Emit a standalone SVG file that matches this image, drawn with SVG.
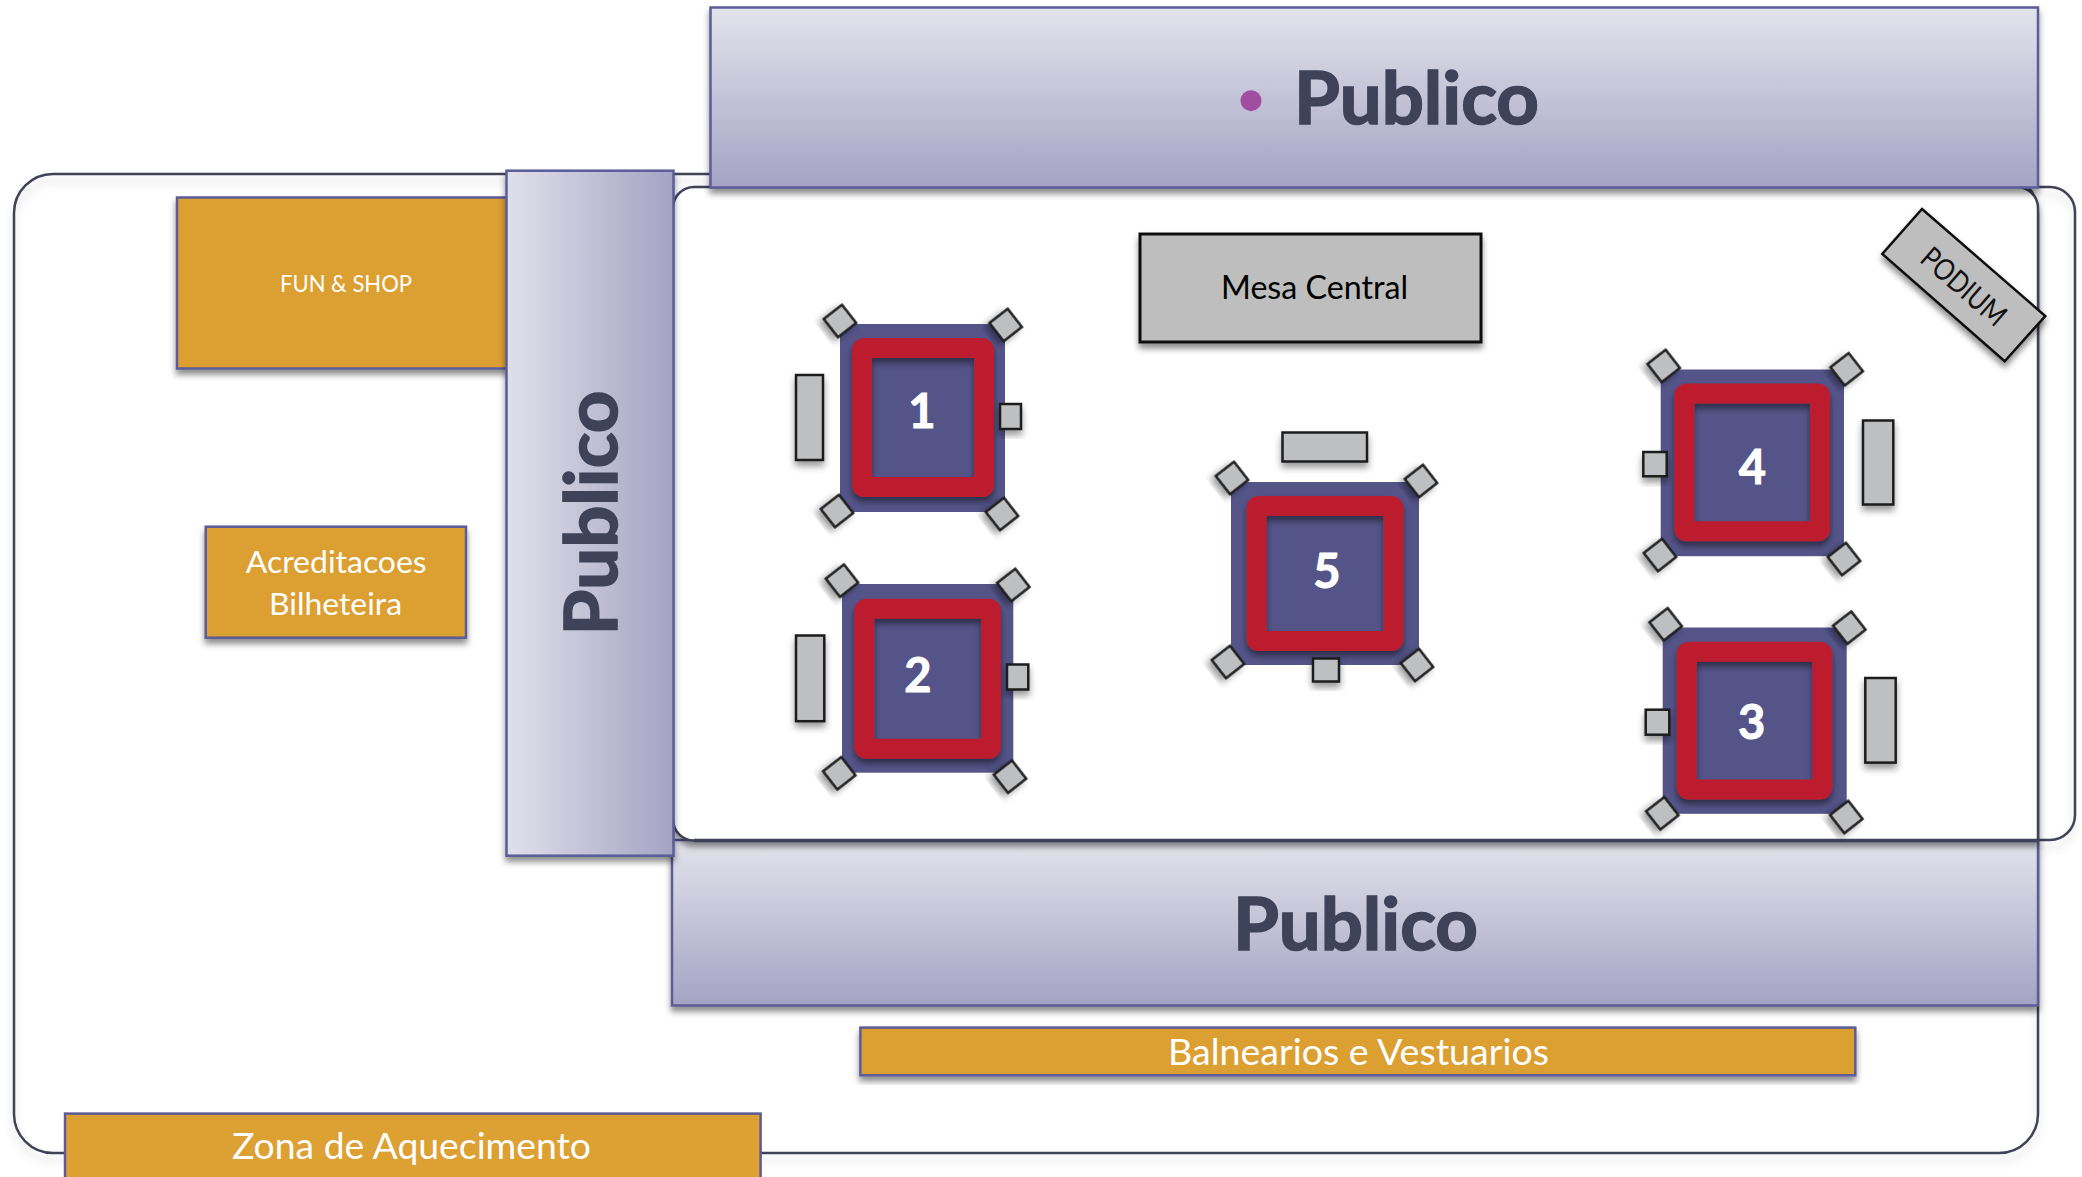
<svg xmlns="http://www.w3.org/2000/svg" width="2082" height="1177" viewBox="0 0 2082 1177">
<style>
.outline{fill:none;stroke:#3f4259;stroke-width:2.5}
.panel{stroke:#5b5b99;stroke-width:2.5}
.gold{fill:#dca033;stroke:#5b5b99;stroke-width:2.5}
.base{fill:#545489}
.red{fill:none;stroke:#bc1e2d;stroke-width:20}
.gray{fill:#bebfc1;stroke:#1c1c1c;stroke-width:2.5}
.t{font-family:"Lato","Open Sans","Liberation Sans",sans-serif}
.pub{font-size:72px;font-weight:700;fill:#3f4259;stroke:#3f4259;stroke-width:1.6}
.lbl{fill:#fff}
.num{font-size:47px;font-weight:700;fill:#fff;stroke:#fff;stroke-width:1;text-anchor:middle}
</style>
<defs>
<linearGradient id="gv" x1="0" y1="0" x2="0" y2="1"><stop offset="0" stop-color="#e3e3ec"/><stop offset="1" stop-color="#a4a3c4"/></linearGradient>
<linearGradient id="gh" x1="0" y1="0" x2="1" y2="0"><stop offset="0" stop-color="#e0e0ea"/><stop offset="1" stop-color="#a4a3c4"/></linearGradient>
<filter id="sh" x="-20%" y="-20%" width="140%" height="140%"><feDropShadow dx="0" dy="5" stdDeviation="3" flood-color="#000" flood-opacity=".45"/></filter>
<filter id="shs" x="-40%" y="-40%" width="180%" height="180%"><feDropShadow dx="0" dy="5" stdDeviation="3.5" flood-color="#000" flood-opacity=".4"/></filter>
<filter id="shl" x="-5%" y="-5%" width="110%" height="110%"><feDropShadow dx="0" dy="7" stdDeviation="4" flood-color="#667" flood-opacity=".25"/></filter>
<rect id="sq" x="-11.500" y="-11.500" width="23" height="23" class="gray" filter="url(#shs)"/>
</defs>

<g id="outlines">
<rect class="outline" x="14" y="174" width="2024" height="979" rx="39" ry="39" filter="url(#shl)"/>
<path class="outline" d="M2038 187H2050A25 25 0 0 1 2075 212V815A25 25 0 0 1 2050 840H2038" filter="url(#shl)"/>
</g>

<g id="publico-bottom">
<rect class="panel" x="672" y="840" width="1366" height="165.500" fill="url(#gv)" filter="url(#sh)"/>
</g>
<g id="arena">
<path d="M694 187H2017A21 21 0 0 1 2038 208V840.500H694A21 21 0 0 1 673 819.500V208A21 21 0 0 1 694 187Z" fill="#fff" stroke="#3f4259" stroke-width="2.500" filter="url(#sh)"/>
<path d="M694 840.500H2038" fill="none" stroke="#3f4259" stroke-width="3.500"/>
</g>
<text class="t pub" x="1233" y="949.500" textLength="245" lengthAdjust="spacingAndGlyphs">Publico</text>

<g id="publico-top">
<rect class="panel" x="710.500" y="7.500" width="1327.500" height="180" fill="url(#gv)" filter="url(#sh)"/>
<circle cx="1251" cy="100.700" r="10.500" fill="#a04fa0"/>
<text class="t pub" x="1294" y="124" textLength="245" lengthAdjust="spacingAndGlyphs">Publico</text>
</g>

<g id="fun-shop">
<rect class="gold" x="177" y="197.500" width="332" height="171" filter="url(#sh)"/>
<text class="t lbl" x="280" y="291.500" font-size="24" textLength="132" lengthAdjust="spacingAndGlyphs">FUN &amp; SHOP</text>
</g>
<g id="publico-left">
<rect class="panel" x="506.500" y="170.700" width="167" height="685" fill="url(#gh)" filter="url(#sh)"/>
<text class="t pub" transform="translate(617.300 635.500) rotate(-90)" textLength="245" lengthAdjust="spacingAndGlyphs">Publico</text>
</g>
<g id="acreditacoes">
<rect class="gold" x="205.700" y="526.700" width="260.300" height="111" filter="url(#sh)"/>
<text class="t lbl" x="245.700" y="573.300" font-size="31" textLength="181" lengthAdjust="spacingAndGlyphs">Acreditacoes</text>
<text class="t lbl" x="269" y="615" font-size="31" textLength="133" lengthAdjust="spacingAndGlyphs">Bilheteira</text>
</g>
<g id="balnearios">
<rect class="gold" x="860.400" y="1027.600" width="994.900" height="47.700" filter="url(#sh)"/>
<text class="t lbl" x="1168" y="1065" font-size="36" textLength="381" lengthAdjust="spacingAndGlyphs">Balnearios e Vestuarios</text>
</g>
<g id="zona-aquecimento">
<rect class="gold" x="65" y="1113.600" width="695.600" height="80"/>
<text class="t lbl" x="232" y="1159" font-size="37" textLength="359" lengthAdjust="spacingAndGlyphs">Zona de Aquecimento</text>
</g>
<g id="mesa-central">
<rect x="1140" y="234" width="341" height="108" fill="#bebebe" stroke="#111" stroke-width="3" filter="url(#sh)"/>
<text class="t" x="1221" y="299.300" font-size="32" fill="#000" textLength="187" lengthAdjust="spacingAndGlyphs">Mesa Central</text>
</g>
<g id="podium">
<polygon points="1922,209 2045.300,316 2004.700,361.300 1882.300,254" fill="#bebebe" stroke="#111" stroke-width="2.500" filter="url(#sh)"/>
<text class="t" transform="translate(1963.500 287) rotate(41)" font-size="30" fill="#111" text-anchor="middle" y="10" textLength="102" lengthAdjust="spacingAndGlyphs">PODIUM</text>
</g>

<g id="ring-1">
<rect class="base" x="840" y="324" width="165" height="188"/>
<rect class="red" x="862" y="348" width="122" height="139" rx="2" filter="url(#sh)"/>
<text class="t num" x="922" y="428">1</text>
<rect class="gray" x="796" y="375" width="27" height="85" filter="url(#shs)"/>
<rect class="gray" x="1000" y="404" width="21" height="25" filter="url(#shs)"/>
<use href="#sq" transform="translate(840 321) rotate(52)"/>
<use href="#sq" transform="translate(1005.700 325) rotate(52)"/>
<use href="#sq" transform="translate(837 511) rotate(52)"/>
<use href="#sq" transform="translate(1002 514) rotate(52)"/>
</g>
<g id="ring-2">
<rect class="base" x="842" y="584" width="171.300" height="188.700"/>
<rect class="red" x="864.300" y="608.700" width="126.700" height="140" rx="2" filter="url(#sh)"/>
<text class="t num" x="918" y="691.700">2</text>
<rect class="gray" x="796" y="635.500" width="28.300" height="85.700" filter="url(#shs)"/>
<rect class="gray" x="1007" y="664.500" width="21.300" height="25" filter="url(#shs)"/>
<use href="#sq" transform="translate(842 580.700) rotate(52)"/>
<use href="#sq" transform="translate(1013.300 585) rotate(52)"/>
<use href="#sq" transform="translate(839.300 773.300) rotate(52)"/>
<use href="#sq" transform="translate(1010 776.700) rotate(52)"/>
</g>
<g id="ring-3">
<rect class="base" x="1662.700" y="627.500" width="184" height="186.300"/>
<rect class="red" x="1686.700" y="651.800" width="135.600" height="137.700" rx="2" filter="url(#sh)"/>
<text class="t num" x="1751.700" y="739">3</text>
<rect class="gray" x="1865.300" y="678" width="30.400" height="84.600" filter="url(#shs)"/>
<rect class="gray" x="1645.700" y="709.700" width="23.600" height="25" filter="url(#shs)"/>
<use href="#sq" transform="translate(1665.700 624.300) rotate(52)"/>
<use href="#sq" transform="translate(1849.300 627.700) rotate(52)"/>
<use href="#sq" transform="translate(1662.300 813.300) rotate(52)"/>
<use href="#sq" transform="translate(1846.300 817) rotate(52)"/>
</g>
<g id="ring-4">
<rect class="base" x="1660.700" y="369.500" width="183.300" height="186.700"/>
<rect class="red" x="1684.300" y="393.500" width="135.700" height="137.700" rx="2" filter="url(#sh)"/>
<text class="t num" x="1752.300" y="484.300">4</text>
<rect class="gray" x="1863" y="420.500" width="30.300" height="84" filter="url(#shs)"/>
<rect class="gray" x="1643.300" y="452" width="23.400" height="24.300" filter="url(#shs)"/>
<use href="#sq" transform="translate(1663.700 366) rotate(52)"/>
<use href="#sq" transform="translate(1846.700 369.300) rotate(52)"/>
<use href="#sq" transform="translate(1660 555) rotate(52)"/>
<use href="#sq" transform="translate(1844 559) rotate(52)"/>
</g>
<g id="ring-5">
<rect class="base" x="1231" y="482" width="188" height="183"/>
<rect class="red" x="1256.500" y="506" width="137" height="135" rx="2" filter="url(#sh)"/>
<text class="t num" x="1327" y="588">5</text>
<rect class="gray" x="1282.500" y="432.500" width="84.500" height="29" filter="url(#shs)"/>
<rect class="gray" x="1313" y="658.500" width="26" height="23" filter="url(#shs)"/>
<use href="#sq" transform="translate(1232 478) rotate(52)"/>
<use href="#sq" transform="translate(1421 481) rotate(52)"/>
<use href="#sq" transform="translate(1228 662) rotate(52)"/>
<use href="#sq" transform="translate(1417 665) rotate(52)"/>
</g>
</svg>
